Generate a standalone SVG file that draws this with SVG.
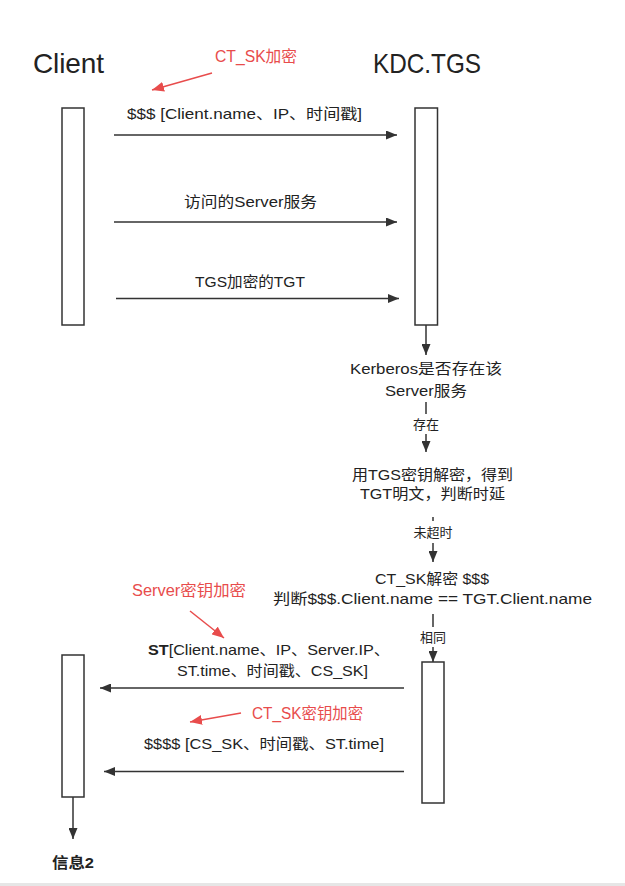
<svg xmlns="http://www.w3.org/2000/svg" width="625" height="886" viewBox="0 0 625 886">
<style>
text{font-family:"Liberation Sans","Noto Sans CJK SC",sans-serif;fill:#222;}
.t{font-size:15px;text-anchor:middle;}
.s{font-size:13px;text-anchor:middle;}
.h{font-size:28px;}
.r{font-size:16px;fill:#e84c4c;}
.box{fill:#fff;stroke:#333;stroke-width:1.5;}
.ln{stroke:#333;stroke-width:1.5;fill:none;}
.rl{stroke:#e84c4c;stroke-width:1.5;fill:none;}
</style>
<defs>
<marker id="a" markerUnits="userSpaceOnUse" markerWidth="12" markerHeight="9" refX="11" refY="4.5" orient="auto"><path d="M0,0 L11,4.5 L0,9 z" fill="#333"/></marker>
<marker id="ra" markerUnits="userSpaceOnUse" markerWidth="13" markerHeight="10" refX="12" refY="5" orient="auto"><path d="M0,0 L12,5 L0,10 z" fill="#e84c4c"/></marker>
</defs>
<rect x="0" y="0" width="625" height="886" fill="#fff"/>
<rect x="0" y="883" width="625" height="3" fill="#e6e6e6"/>

<g id="client-title"><text class="h" x="33" y="73" textLength="71">Client</text></g>
<g id="kdc-title"><text class="h" x="373" y="73" textLength="108" lengthAdjust="spacingAndGlyphs">KDC.TGS</text></g>
<g id="client-box1"><rect class="box" x="62" y="108" width="22" height="217"/></g>
<g id="kdc-box1"><rect class="box" x="415" y="108" width="22.5" height="217"/></g>
<g id="client-box2"><rect class="box" x="62" y="655" width="22" height="142"/></g>
<g id="kdc-box2"><rect class="box" x="422" y="662" width="22" height="141"/></g>

<g id="note-ctsk"><text class="r" x="215" y="62" textLength="82" lengthAdjust="spacingAndGlyphs">CT_SK加密</text></g>
<g id="note-server"><text class="r" x="132" y="596" textLength="114" lengthAdjust="spacingAndGlyphs">Server密钥加密</text></g>
<g id="note-ctsk2"><text class="r" x="252" y="719" textLength="111" lengthAdjust="spacingAndGlyphs">CT_SK密钥加密</text></g>

<g id="kerberos"><text class="t" x="426" y="374" textLength="152" lengthAdjust="spacingAndGlyphs">Kerberos是否存在该</text><text class="t" x="426" y="396" textLength="82" lengthAdjust="spacingAndGlyphs">Server服务</text></g>
<g id="decrypt"><text class="t" x="432.5" y="480" textLength="161" lengthAdjust="spacingAndGlyphs">用TGS密钥解密，得到</text><text class="t" x="432.5" y="499" textLength="145" lengthAdjust="spacingAndGlyphs">TGT明文，判断时延</text></g>
<g id="check"><text class="t" x="432" y="584" textLength="114" lengthAdjust="spacingAndGlyphs">CT_SK解密 $$$</text><text class="t" x="432.5" y="604" textLength="319" lengthAdjust="spacingAndGlyphs">判断$$$.Client.name == TGT.Client.name</text></g>
<g id="info2"><text x="52" y="868" style="font-size:15px;font-weight:bold" textLength="42" lengthAdjust="spacingAndGlyphs">信息2</text></g>

<g id="connectors">
<line class="ln" x1="114" y1="135" x2="397" y2="135" marker-end="url(#a)"/>
<text class="t" x="244.5" y="119" textLength="235" lengthAdjust="spacingAndGlyphs">$$$ [Client.name、IP、时间戳]</text>
<line class="ln" x1="114" y1="222" x2="397" y2="222" marker-end="url(#a)"/>
<text class="t" x="250.5" y="207" textLength="133" lengthAdjust="spacingAndGlyphs">访问的Server服务</text>
<line class="ln" x1="116" y1="298.5" x2="399" y2="298.5" marker-end="url(#a)"/>
<text class="t" x="250" y="287" textLength="110" lengthAdjust="spacingAndGlyphs">TGS加密的TGT</text>

<line class="ln" x1="426" y1="325" x2="426" y2="355" marker-end="url(#a)"/>
<line class="ln" x1="426" y1="402" x2="426" y2="452" marker-end="url(#a)"/>
<rect x="410" y="414" width="32" height="20" fill="#fff"/>
<text class="s" x="426" y="429">存在</text>
<line class="ln" x1="433" y1="517" x2="433" y2="562" marker-end="url(#a)"/>
<rect x="411" y="521" width="44" height="22" fill="#fff"/>
<text class="s" x="433" y="537">未超时</text>
<line class="ln" x1="433" y1="614" x2="433" y2="662" marker-end="url(#a)"/>
<rect x="416" y="627" width="34" height="20" fill="#fff"/>
<text class="s" x="433" y="642">相同</text>

<line class="ln" x1="404" y1="688" x2="100" y2="688" marker-end="url(#a)"/>
<text class="t" x="269" y="655" textLength="242" lengthAdjust="spacingAndGlyphs"><tspan style="font-weight:bold">ST</tspan>[Client.name、IP、Server.IP、</text>
<text class="t" x="272.5" y="676" textLength="191" lengthAdjust="spacingAndGlyphs">ST.time、时间戳、CS_SK]</text>
<line class="ln" x1="404" y1="771.5" x2="104" y2="771.5" marker-end="url(#a)"/>
<text class="t" x="264" y="749" textLength="240" lengthAdjust="spacingAndGlyphs">$$$$ [CS_SK、时间戳、ST.time]</text>
<line class="ln" x1="73" y1="797" x2="73" y2="839" marker-end="url(#a)"/>

<line class="rl" x1="212" y1="73" x2="152" y2="90" marker-end="url(#ra)"/>
<line class="rl" x1="190" y1="611" x2="224" y2="638" marker-end="url(#ra)"/>
<line class="rl" x1="241" y1="713" x2="190" y2="722" marker-end="url(#ra)"/>
</g>
</svg>
